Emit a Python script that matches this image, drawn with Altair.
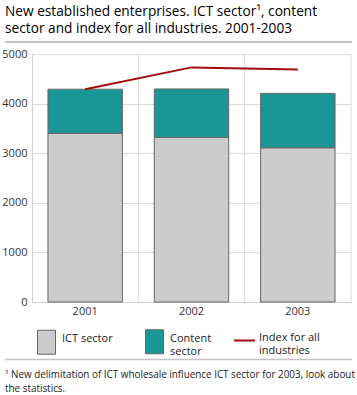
import altair as alt
import pandas as pd

years = ["2001", "2002", "2003"]
ict = [3400, 3320, 3110]
content = [890, 975, 1095]
index_all = [4290, 4730, 4685]
sectors = ["ICT sector", "Content sector"]
line_name = "Index for all industries"
title_lines = ["New established enterprises. ICT sector\u00b9,  content",
               "sector and index for all industries. 2001-2003"]
foot_lines = ["\u00b9 New delimitation of ICT wholesale influence ICT sector for 2003, look about",
              "the statistics."]

FONT = "Open Sans"
W, H = 319, 248
PAD_IN, PAD_OUT = 0.3, 0.15
YMAX = 5000

bars_df = pd.DataFrame({
    "year": years * 2,
    "value": ict + content,
    "sector": [sectors[0]] * 3 + [sectors[1]] * 3,
    "ord": [0] * 3 + [1] * 3,
})
line_df = pd.DataFrame({"year": years, "value": index_all, "series": [line_name] * 3})
# category step boundaries (after 1st, 2nd, 3rd category)
bound_df = pd.DataFrame({"b": [1, 2, 3]})

xscale = alt.Scale(domain=years, paddingInner=PAD_IN, paddingOuter=PAD_OUT)
yscale = alt.Scale(domain=[0, YMAX])
step_scale = alt.Scale(domain=[0, 3], nice=False, zero=False)

vgrid = alt.Chart(bound_df).mark_rule(color="#d9d9d9", strokeWidth=1).encode(
    x=alt.X("b:Q", scale=step_scale, axis=None),
    y=alt.Y("top:Q", scale=yscale),
    y2=alt.Y2("bottom:Q"),
).transform_calculate(top=str(YMAX), bottom="0")

bars = alt.Chart(bars_df).mark_bar(stroke="#666666", strokeWidth=1).encode(
    x=alt.X("year:N", scale=xscale, title=None,
            axis=alt.Axis(labelAngle=0, ticks=False, labelPadding=3, domainColor="#d0d0d0",
                          labelFont=FONT, labelFontSize=11, labelColor="#333333", grid=False)),
    y=alt.Y("value:Q", stack="zero", scale=yscale, title=None,
            axis=alt.Axis(values=[0, 1000, 2000, 3000, 4000, 5000], format="d", ticks=False,
                          labelPadding=5, domainColor="#d0d0d0", gridColor="#d9d9d9",
                          labelFont=FONT, labelFontSize=11, labelColor="#333333")),
    fill=alt.Fill("sector:N", scale=alt.Scale(domain=sectors, range=["#cccccc", "#1a9696"]),
                  legend=alt.Legend(orient="none", legendX=2, legendY=275, direction="horizontal",
                                    title=None, symbolType="M-0.75,-1H0.75V1H-0.75Z", symbolSize=576,
                                    symbolStrokeColor="#666666", symbolStrokeWidth=1,
                                    labelFont=FONT, labelFontSize=11, labelColor="#222222",
                                    labelOffset=3, columnPadding=29, labelLimit=200,
                                    labelBaseline="alphabetic",
                                    labelExpr="datum.label == 'Content sector' ? ['Content', 'sector'] : datum.label")),
    order=alt.Order("ord:Q"),
)

line = alt.Chart(line_df).mark_line(strokeWidth=2).encode(
    x=alt.X("year:N", scale=xscale, axis=None),
    y=alt.Y("value:Q", scale=yscale),
    stroke=alt.Stroke("series:N", scale=alt.Scale(domain=[line_name], range=["#a00c0c"]),
                      legend=alt.Legend(orient="none", legendX=201, legendY=275, title=None,
                                        symbolType="stroke", symbolSize=441, symbolStrokeWidth=2,
                                        labelFont=FONT, labelFontSize=11, labelColor="#222222",
                                        labelOffset=3, labelLimit=200, labelBaseline="alphabetic",
                                        labelExpr="['Index for all', 'industries']")),
)

# decorative separator lines, expressed in the chart's own scales
px_to_step = 3 / W
px_to_val = YMAX / H
top_df = pd.DataFrame({"x0": [-27 * px_to_step], "x1": [320 * px_to_step],
                       "y": [YMAX + 12 * px_to_val]})
bot_df = pd.DataFrame({"x0": [-27 * px_to_step], "x1": [320 * px_to_step],
                       "y": [-(305.5 - H) * px_to_val]})
top_sep = alt.Chart(top_df).mark_rule(color="#c4c4c4", strokeWidth=2).encode(
    x=alt.X("x0:Q", scale=step_scale, axis=None), x2="x1:Q",
    y=alt.Y("y:Q", scale=yscale))
bot_sep = alt.Chart(bot_df).mark_rule(color="#c4c4c4", strokeWidth=1.5).encode(
    x=alt.X("x0:Q", scale=step_scale, axis=None), x2="x1:Q",
    y=alt.Y("y:Q", scale=yscale))

title_df = pd.DataFrame({"t": title_lines, "y": [-42, -25]})
title_txt = alt.Chart(title_df).mark_text(align="left", baseline="middle", font=FONT,
                                          fontSize=13.7, color="#000000").encode(
    x=alt.value(-27), y=alt.Y("y:Q", scale=None, axis=None), text="t:N")

foot_df = pd.DataFrame({"t": foot_lines, "y": [321, 335]})
foot = alt.Chart(foot_df).mark_text(align="left", baseline="middle", font=FONT, fontSize=9.9,
                                    color="#222222").encode(
    x=alt.value(-27), y=alt.Y("y:Q", scale=None, axis=None), text="t:N")

chart = alt.layer(vgrid, bars, line, top_sep, bot_sep, title_txt, foot).resolve_scale(
    x="independent"
).properties(
    width=W, height=H,
    autosize=alt.AutoSizeParams(type="none"),
    padding={"left": 32, "top": 54, "right": 6, "bottom": 93},
).configure_view(stroke=None)

chart.save("out.html", embed_options={"renderer": "svg", "actions": False})
